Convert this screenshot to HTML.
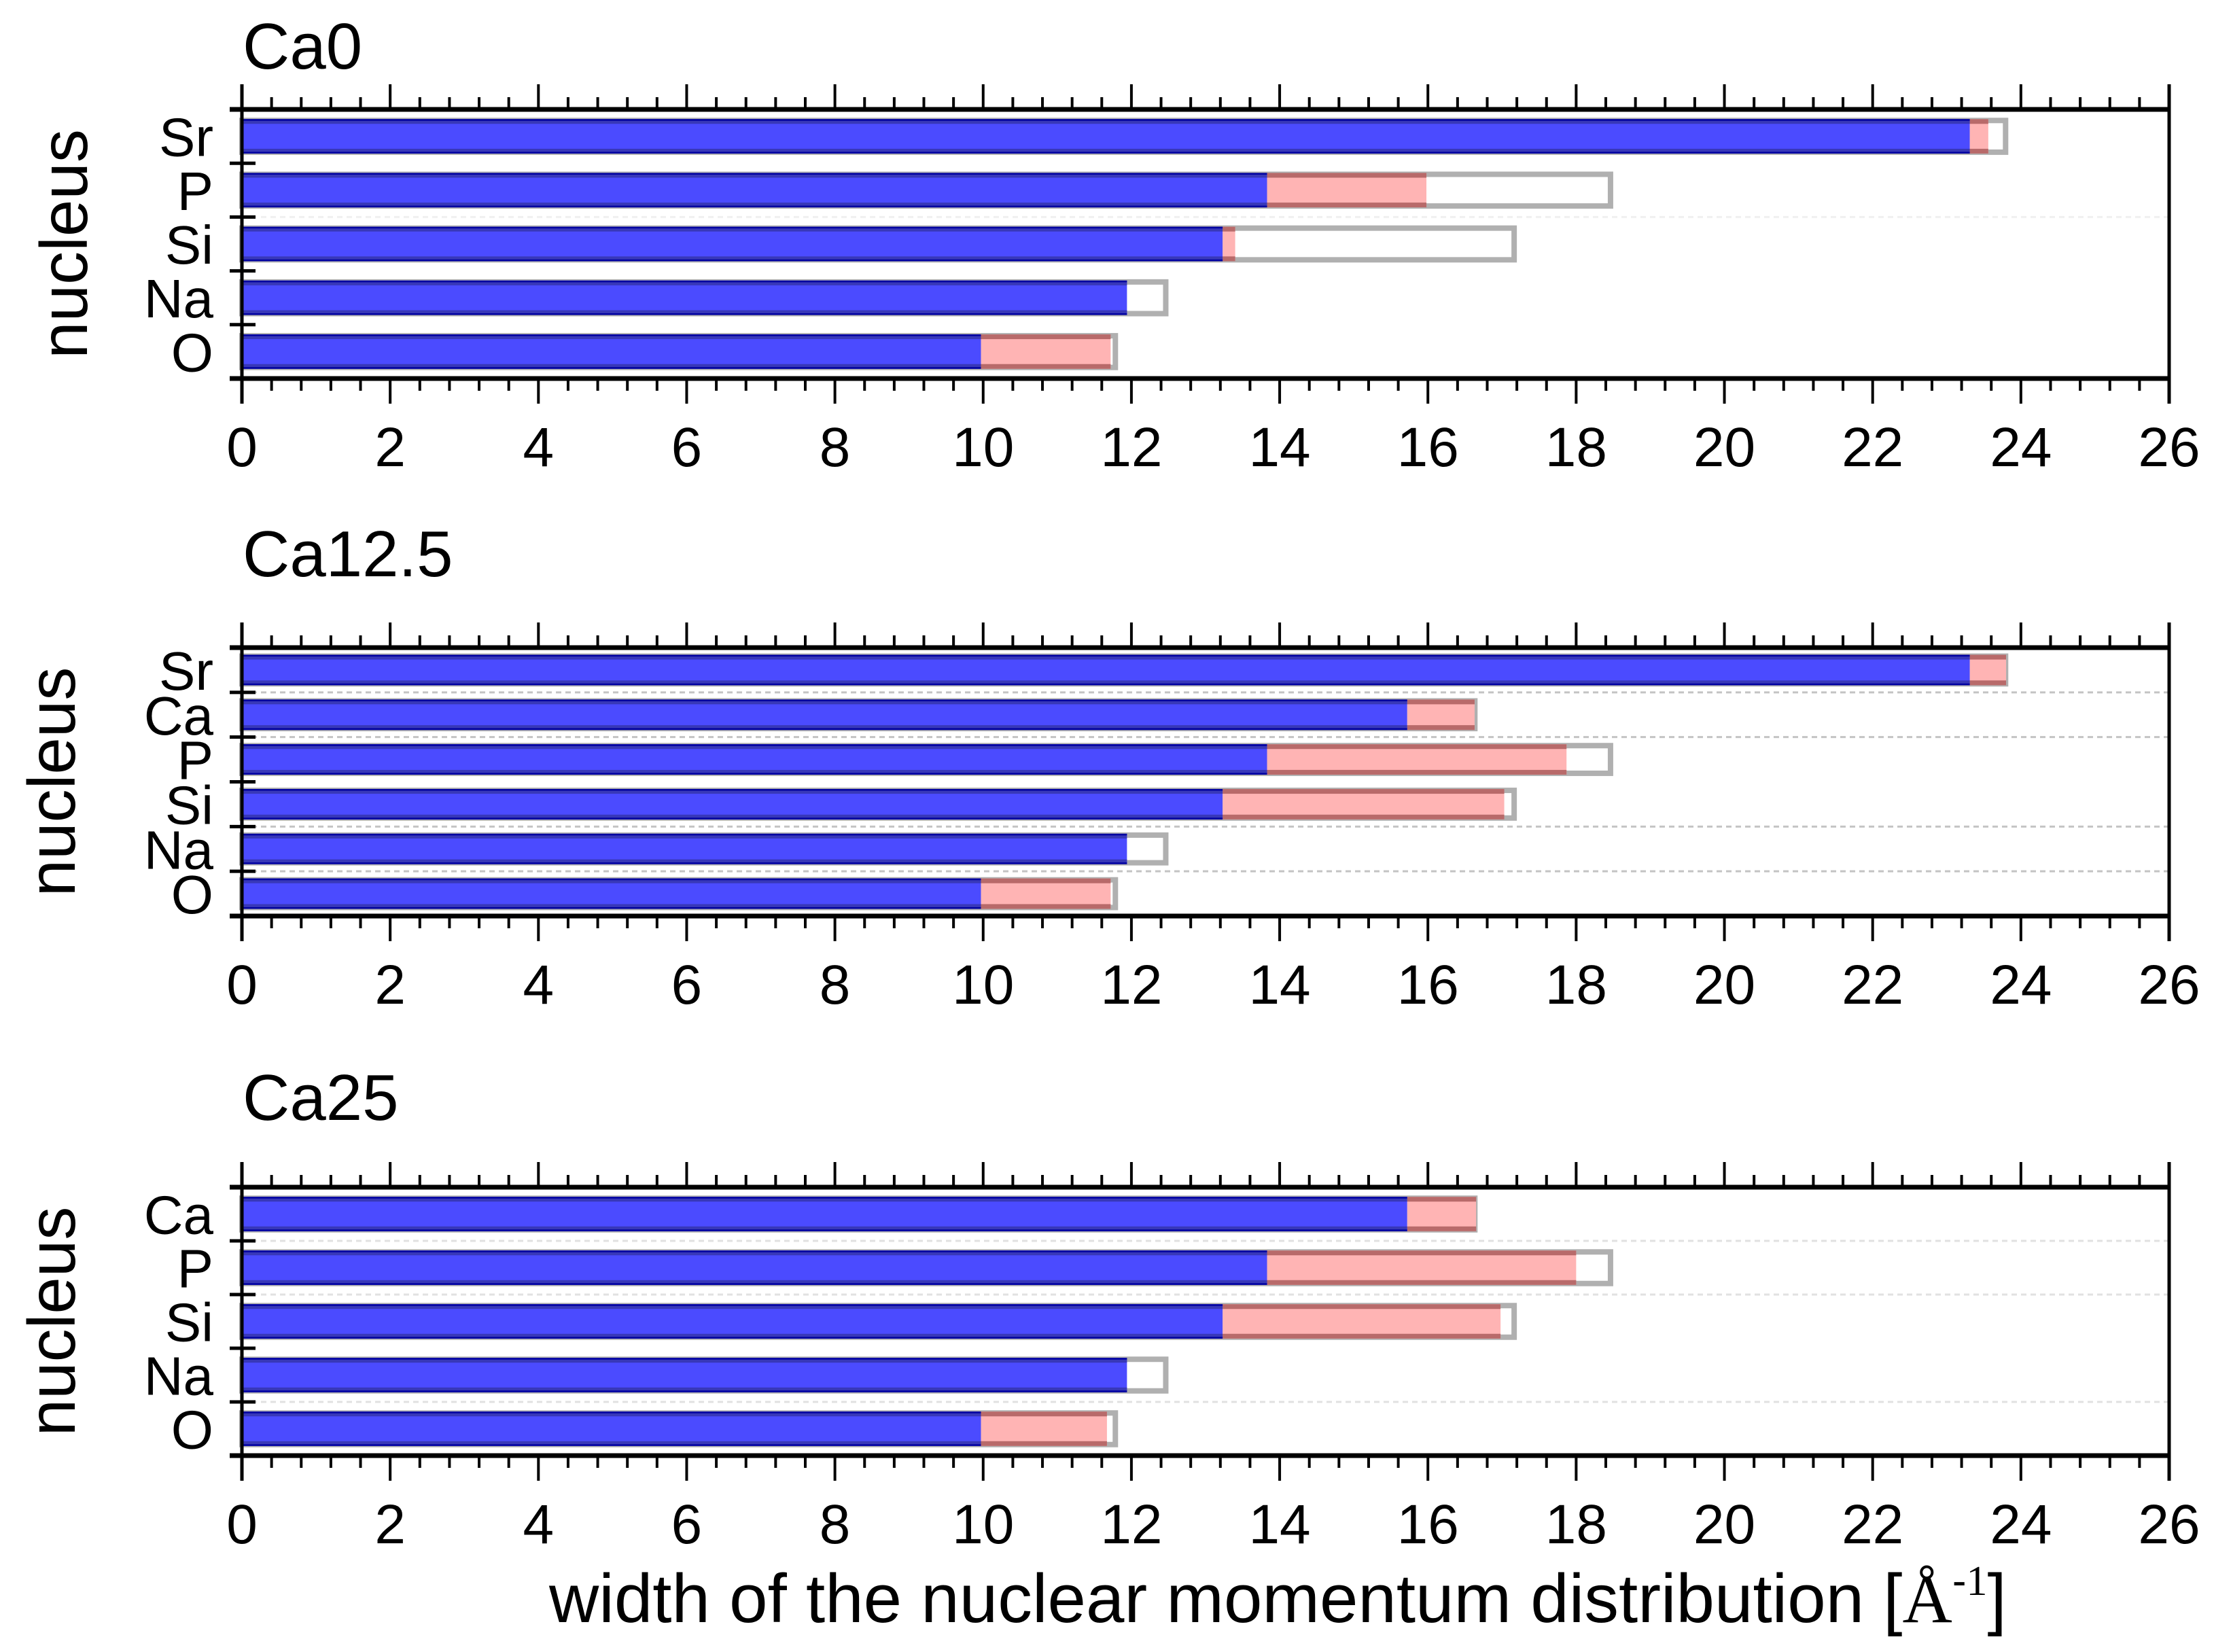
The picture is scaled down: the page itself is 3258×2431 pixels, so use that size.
<!DOCTYPE html>
<html><head><meta charset="utf-8"><style>
html,body{margin:0;padding:0;background:#fff;}
svg{display:block;font-family:"Liberation Sans",sans-serif;}
</style></head><body>
<svg id="chart" width="3258" height="2431" viewBox="0 0 3258 2431" xmlns="http://www.w3.org/2000/svg">
<rect width="3258" height="2431" fill="#fff"/>
</svg>
<script>
// ---- data ----
const panelTitles = ["Ca0", "Ca12.5", "Ca25"];
const cats0 = ["Sr", "P", "Si", "Na", "O"];
const blue0 = [23.31, 13.83, 13.23, 11.94, 9.97];
const pink0 = [23.56, 15.98, 13.40, 11.94, 11.72];
const gray0 = [23.83, 18.50, 17.20, 12.50, 11.82];
const cats1 = ["Sr", "Ca", "P", "Si", "Na", "O"];
const blue1 = [23.31, 15.72, 13.83, 13.23, 11.94, 9.97];
const pink1 = [23.80, 16.63, 17.87, 17.03, 11.94, 11.72];
const gray1 = [23.83, 16.67, 18.50, 17.20, 12.50, 11.82];
const cats2 = ["Ca", "P", "Si", "Na", "O"];
const blue2 = [15.72, 13.83, 13.23, 11.94, 9.97];
const pink2 = [16.65, 18.00, 16.98, 11.94, 11.67];
const gray2 = [16.67, 18.50, 17.20, 12.50, 11.82];
const xTicks = [0, 2, 4, 6, 8, 10, 12, 14, 16, 18, 20, 22, 24, 26];

// ---- layout ----
const NS = "http://www.w3.org/2000/svg";
const svg = document.getElementById("chart");
const X0 = 356, X1 = 3192, XMAX = 26;
const xs = v => X0 + (X1 - X0) * v / XMAX;
const panels = [
  {title: panelTitles[0], cats: cats0, blue: blue0, pink: pink0, gray: gray0, top: 161, bottom: 557, titleY: 101, nucX: 128, frac: 0.69, grids: [2], gridOp: 0.25},
  {title: panelTitles[1], cats: cats1, blue: blue1, pink: pink1, gray: gray1, top: 953, bottom: 1348, titleY: 848, nucX: 110, frac: 0.74, grids: [1, 2, 4, 5], gridOp: 1},
  {title: panelTitles[2], cats: cats2, blue: blue2, pink: pink2, gray: gray2, top: 1747, bottom: 2142, titleY: 1648, nucX: 110, frac: 0.69, grids: [1, 2, 4], gridOp: 0.5}
];
function mk(tag, attrs, parent) {
  const e = document.createElementNS(NS, tag);
  for (const k in attrs) e.setAttribute(k, attrs[k]);
  (parent || svg).appendChild(e);
  return e;
}
panels.forEach((p, pi) => {
  const g = mk("g", {});
  
  
  const n = p.cats.length;
  const band = (p.bottom - p.top) / n;
  const ys = i => p.top + band * (i + 0.5);
  const t = mk("text", {x: 357, y: p.titleY, "font-size": 96, fill: "#000"}, g);
  t.textContent = p.title;
  
  
  const yt = mk("text", {x: 0, y: 0, "font-size": 98, "text-anchor": "middle", transform: `translate(${p.nucX},${(p.top + p.bottom) / 2}) rotate(-90)`}, g);
  yt.textContent = "nucleus";
  
  
  p.grids.forEach(k => {
    const gl = mk("line", {x1: X0, x2: X1, y1: p.top + band * k, y2: p.top + band * k, stroke: "#c4c4c4", "stroke-width": 3, "stroke-dasharray": "8 6", opacity: p.gridOp}, g);
    
    
  });
  for (let i = 0; i < n; i++) {
    const cy = ys(i), h = band * p.frac;
    const bg = mk("g", {}, g);
    
    
    const gr = mk("rect", {x: xs(0), y: cy - h / 2 + 4, width: xs(p.gray[i]) - xs(0) - 4, height: h - 8, fill: "#fff", stroke: "#b0b0b0", "stroke-width": 8}, bg);
    
    
    const bh = h - 4, by = cy - bh / 2;
    if (p.pink[i] > p.blue[i]) {
      const pr = mk("rect", {x: xs(p.blue[i]), y: by, width: xs(p.pink[i]) - xs(p.blue[i]), height: bh, fill: "#ffb4b4"}, bg);
      
      
      mk("rect", {x: xs(p.blue[i]), y: by, width: xs(p.pink[i]) - xs(p.blue[i]), height: 7, fill: "#b86a6a"}, bg);
      mk("rect", {x: xs(p.blue[i]), y: by + bh - 7, width: xs(p.pink[i]) - xs(p.blue[i]), height: 7, fill: "#b86a6a"}, bg);
    }
    const br = mk("rect", {x: xs(0), y: by, width: xs(p.blue[i]) - xs(0), height: bh, fill: "#4b4bff"}, bg);
    
    
    mk("rect", {x: xs(0), y: by, width: xs(p.blue[i]) - xs(0), height: 7, fill: "#3838b8"}, bg);
    mk("rect", {x: xs(0), y: by + bh - 7, width: xs(p.blue[i]) - xs(0), height: 7, fill: "#3838b8"}, bg);
    mk("rect", {x: xs(0), y: by, width: xs(p.blue[i]) - xs(0), height: 2.5, fill: "#0000a0"}, bg);
    mk("rect", {x: xs(0), y: by + bh - 2.5, width: xs(p.blue[i]) - xs(0), height: 2.5, fill: "#0000a0"}, bg);
    const cl = mk("text", {x: 314, y: cy + 29, "font-size": 80, "text-anchor": "end"}, g);
    cl.textContent = p.cats[i];
    
    
    if (i > 0) mk("line", {x1: 338, x2: 376, y1: p.top + band * i, y2: p.top + band * i, stroke: "#000", "stroke-width": 5}, g);
  }
  const fr = mk("g", {}, g);
  
  
  mk("line", {x1: 338, x2: X1 + 2, y1: p.top, y2: p.top, stroke: "#000", "stroke-width": 7}, fr);
  mk("line", {x1: 338, x2: X1 + 2, y1: p.bottom, y2: p.bottom, stroke: "#000", "stroke-width": 7}, fr);
  mk("line", {x1: X0, x2: X0, y1: p.top - 37, y2: p.bottom + 37, stroke: "#000", "stroke-width": 5}, fr);
  mk("line", {x1: X1, x2: X1, y1: p.top - 37, y2: p.bottom + 37, stroke: "#000", "stroke-width": 5}, fr);
  for (let k = 0; k <= 65; k++) {
    const v = k * 0.4, x = xs(v);
    const major = k % 5 === 0;
    const L = major ? 37 : 18;
    mk("line", {x1: x, x2: x, y1: p.top, y2: p.top - L, stroke: "#000", "stroke-width": 4}, fr);
    mk("line", {x1: x, x2: x, y1: p.bottom, y2: p.bottom + L, stroke: "#000", "stroke-width": 4}, fr);
  }
  xTicks.forEach(v => {
    const tl = mk("text", {x: xs(v), y: p.bottom + 129, "font-size": 82, "text-anchor": "middle"}, g);
    tl.textContent = v;
    
    
  });
});
const xl = mk("text", {x: 808, y: 2387, "font-size": 101.5});


xl.innerHTML = 'width of the nuclear momentum distribution [<tspan font-family="Liberation Serif, serif">Å</tspan><tspan dy="-40" font-size="62">-</tspan><tspan font-size="62" font-family="Liberation Serif, serif">1</tspan><tspan dy="40">]</tspan>';
</script>
</body></html>
